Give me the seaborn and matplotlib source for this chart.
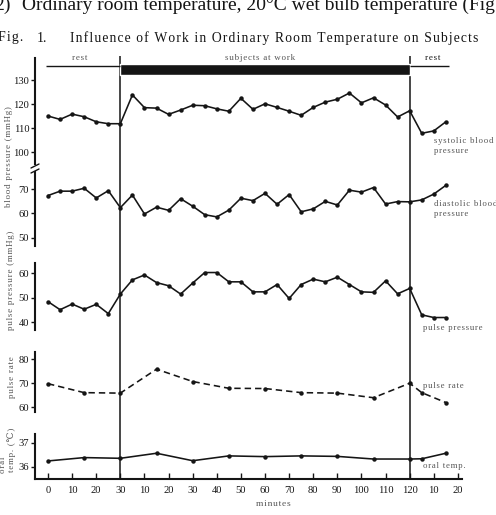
import matplotlib
matplotlib.use('Agg')
import matplotlib.pyplot as plt
from matplotlib.lines import Line2D
import seaborn as sns
import pandas as pd

# ---------------- data ----------------
# continuous minute axis: 0-30 rest, 30-150 work (0-120 min of work), 150- rest
bp_time = [0, 5, 10, 15, 20, 25, 30, 35, 40, 45, 50, 55, 60, 65, 70, 75, 80, 85,
           90, 95, 100, 105, 110, 115, 120, 125, 130, 135, 140, 145, 150, 155, 160, 165]
systolic = [115, 113.6, 115.8, 114.7, 112.6, 111.8, 111.8,
            123.8, 118.5, 118.3, 115.7, 117.5, 119.5, 119.3, 118, 117, 122.4, 117.8,
            120.1, 118.6, 117, 115.3, 118.6, 120.8, 122, 124.6, 120.5, 122.6, 119.6,
            114.6, 117.2,
            107.8, 108.8, 112.6]
diastolic = [67.4, 69.2, 69.2, 70.4, 66.4, 69.4, 62.4,
             67.6, 59.8, 62.6, 61.3, 66.1, 63, 59.5, 58.6, 61.4, 66.3, 65.3, 68.3,
             63.8, 67.8, 60.7, 61.9, 65, 63.5, 69.6, 68.8, 70.7, 63.9, 64.9, 64.8,
             65.6, 68, 71.6]
pulse_pressure = [48.4, 45.1, 47.4, 45.3, 47.3, 43.5, 51.5,
                  57.3, 59.3, 56.2, 54.9, 51.5, 56, 60.3, 60.3, 56.5, 56.5, 52.4, 52.4,
                  55.4, 49.7, 55.4, 57.6, 56.5, 58.4, 55.4, 52.4, 52.2, 56.9, 51.6, 53.8,
                  43, 41.9, 41.9]
pr_time = [0, 15, 30, 45, 60, 75, 90, 105, 120, 135, 150, 155, 165]
pulse_rate = [69.8, 66.1, 65.9, 75.8, 70.7, 67.9, 67.8, 66.1, 65.9, 64, 70, 66.1, 62]
oral_temp = [36.24, 36.38, 36.35, 36.56, 36.25, 36.45, 36.42, 36.45, 36.43,
             36.32, 36.32, 36.33, 36.56]

phase_bounds = [30, 150]
x_tick_pos = [0, 10, 20, 30, 40, 50, 60, 70, 80, 90, 100, 110, 120, 130, 140, 150, 160, 170]
x_tick_labels = ["0", "10", "20", "30", "10", "20", "30", "40", "50", "60", "70",
                 "80", "90", "100", "110", "120", "10", "20"]

# ---------------- style ----------------
sns.set_style('ticks')
plt.rcParams['font.family'] = ['Liberation Serif', 'DejaVu Serif']
plt.rcParams['lines.dashed_pattern'] = (4.0, 2.5)

INK = '#151515'
GRAY = '#555555'
W, H = 496, 515
fig = plt.figure(figsize=(W / 100, H / 100), dpi=100)
XLIM = (-5.4, 171.7)


def px_axes(top, bottom, left=35, right=462):
    return fig.add_axes([left / W, 1 - bottom / H, (right - left) / W, (bottom - top) / H])


def ftext(x, y, s, **kw):
    return fig.text(x / W, 1 - y / H, s, **kw)


def spaced(s, sep='\u200a'):
    return sep.join(s)


panels = [
    dict(t=bp_time, v=systolic, top=58, bottom=164, ylim=(95, 139.2), ticks=[100, 110, 120, 130], ls='-'),
    dict(t=bp_time, v=diastolic, top=172, bottom=246, ylim=(46.6, 77.1), ticks=[50, 60, 70], ls='-'),
    dict(t=bp_time, v=pulse_pressure, top=263, bottom=330, ylim=(36.8, 64.2), ticks=[40, 50, 60], ls='-'),
    dict(t=pr_time, v=pulse_rate, top=352, bottom=412, ylim=(58.1, 82.9), ticks=[60, 70, 80], ls='--'),
    dict(t=pr_time, v=oral_temp, top=434, bottom=479, ylim=(35.49, 37.36), ticks=[36, 37], ls='-'),
]

axes = []
for i, p in enumerate(panels):
    ax = px_axes(p['top'], p['bottom'])
    ax.patch.set_alpha(0)
    df = pd.DataFrame({'t': p['t'], 'v': p['v']})
    sns.lineplot(data=df, x='t', y='v', ax=ax, color=INK, linewidth=1.15,
                 linestyle=p['ls'], marker='o', markersize=3.2, markeredgewidth=0,
                 markerfacecolor=INK)
    ax.set_xlim(*XLIM)
    ax.set_ylim(*p['ylim'])
    ax.set_yticks(p['ticks'])
    ax.set_xlabel('')
    ax.set_ylabel('')
    for s in ['top', 'right']:
        ax.spines[s].set_visible(False)
    ax.spines['left'].set_linewidth(1.5)
    ax.spines['left'].set_color(INK)
    ax.tick_params(axis='y', direction='out', length=3, width=1.0, pad=1.2,
                   labelsize=7.6, colors=INK)
    last = (i == len(panels) - 1)
    if last:
        ax.spines['bottom'].set_linewidth(1.5)
        ax.spines['bottom'].set_color(INK)
        ax.set_xticks(x_tick_pos)
        ax.set_xticklabels(x_tick_labels)
        ax.tick_params(axis='x', direction='in', length=4, width=1.0, pad=5,
                       labelsize=7.6, colors=INK)
    else:
        ax.spines['bottom'].set_visible(False)
        ax.set_xticks([])
    axes.append(ax)

# overlay with the phase boundaries
ov = px_axes(56, 479)
ov.patch.set_alpha(0)
ov.set_xlim(*XLIM)
ov.set_ylim(0, 1)
ov.axis('off')
for b in phase_bounds:
    ov.axvline(b, color=INK, lw=1.1)

# top phase bar
bar = px_axes(50, 80)
bar.patch.set_alpha(0)
bar.set_xlim(*XLIM)
bar.set_ylim(0, 1)
bar.axis('off')
bar.broken_barh([(phase_bounds[0], phase_bounds[1] - phase_bounds[0])], (0.17, 0.37),
                facecolors=INK)
bar.hlines(0.47, -0.8, phase_bounds[0], color=INK, lw=1.0)
bar.hlines(0.47, phase_bounds[1], 166.5, color=INK, lw=1.0)
bar.text(13, 0.72, spaced('rest'), ha='center', va='center', fontsize=6.5, color=GRAY)
bar.text(88, 0.72, spaced('subjects at work'), ha='center', va='center', fontsize=6.5, color=GRAY)
bar.text(159.5, 0.72, spaced('rest'), ha='center', va='center', fontsize=6.5, color=INK)

# axis break marks between systolic / diastolic
for yy in (166, 171):
    fig.add_artist(Line2D([31 / W, 39 / W], [1 - (yy + 2) / H, 1 - (yy - 2) / H],
                          color=INK, lw=1.0))

# series labels
lab_kw = dict(fontsize=6.3, color=GRAY, va='center', ha='left', linespacing=1.3)
ftext(434, 146, spaced('systolic blood') + '\n' + spaced('pressure'), **lab_kw)
ftext(434, 209, spaced('diastolic blood') + '\n' + spaced('pressure'), **lab_kw)
ftext(423, 328, spaced('pulse pressure'), **lab_kw)
ftext(423, 386, spaced('pulse rate'), **lab_kw)
ftext(423, 466, spaced('oral temp.'), **lab_kw)

# y labels
yl_kw = dict(fontsize=6.5, color=GRAY, rotation=90, ha='center', va='center')
ftext(9.5, 157, spaced('blood pressure (mmHg)'), **yl_kw)
ftext(11.5, 280, spaced('pulse pressure (mmHg)'), **yl_kw)
ftext(12, 377, spaced('pulse rate'), **yl_kw)
ftext(12, 450, spaced('temp. (℃)'), **yl_kw)
ftext(3.5, 465, spaced('oral'), **yl_kw)

# x label
ftext(273, 504, spaced('minutes'), fontsize=6.8, color=GRAY, ha='center', va='center')

# titles
ftext(-2, 38, spaced('Fig.'), fontsize=10, color=INK, ha='left', va='center')
ftext(37, 38, '1.', fontsize=10, color=INK, ha='left', va='center')
ftext(70, 38, spaced('Influence of Work in Ordinary Room Temperature on Subjects'),
      fontsize=9.85, color=INK, ha='left', va='center')
ftext(11, 9.5, '2)', fontsize=14, color=INK, ha='right', va='baseline')
ftext(22, 9.5, 'Ordinary room temperature, 20°C wet bulb temperature (Fig',
      fontsize=14, color=INK, ha='left', va='baseline')

fig.savefig('out.png', dpi=100)
